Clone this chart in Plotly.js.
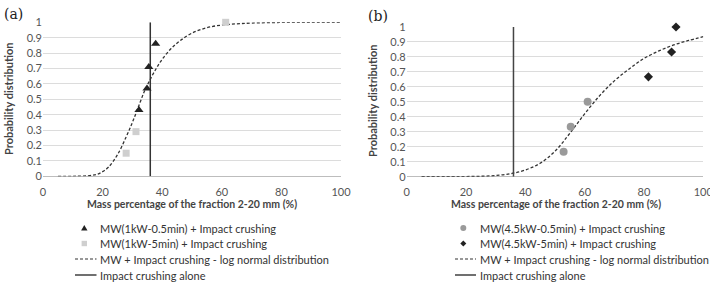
<!DOCTYPE html>
<html><head><meta charset="utf-8">
<script src="https://cdn.plot.ly/plotly-3.0.1.min.js"></script>
<style>html,body{margin:0;padding:0;background:#fff}#c{width:710px;height:282px}</style>
</head><body><div id="c"></div>
<script>
// Panel (a)
const a_tri_x = [32.2, 34.9, 35.5, 37.8];
const a_tri_y = [0.43, 0.57, 0.71, 0.86];
const a_sq_x = [27.9, 31.2, 61.3];
const a_sq_y = [0.15, 0.29, 1.0];
const a_fit_x = [5, 10, 15, 18, 20, 22, 25, 28, 30, 32, 34, 36, 38, 40, 43, 46, 50, 55, 60, 65, 70, 80, 90, 100];
const a_fit_y = [0, 0, 0.003, 0.012, 0.03, 0.06, 0.14, 0.26, 0.35, 0.45, 0.55, 0.63, 0.7, 0.76, 0.83, 0.88, 0.93, 0.965, 0.982, 0.99, 0.995, 0.999, 1, 1];
const a_impact = 36;
// Panel (b)
const b_circ_x = [52.9, 55.3, 61.0];
const b_circ_y = [0.167, 0.333, 0.5];
const b_dia_x = [81.5, 89.3, 90.8];
const b_dia_y = [0.667, 0.833, 1.0];
const b_fit_x = [5, 15, 20, 25, 30, 35, 40, 45, 50, 55, 60, 65, 70, 75, 80, 85, 90, 95, 100];
const b_fit_y = [0, 0, 0.001, 0.003, 0.008, 0.02, 0.045, 0.09, 0.17, 0.29, 0.42, 0.54, 0.64, 0.72, 0.79, 0.84, 0.88, 0.91, 0.935];
const b_impact = 36;
const xTicks = [0, 20, 40, 60, 80, 100];
const yTicks = [0, 0.1, 0.2, 0.3, 0.4, 0.5, 0.6, 0.7, 0.8, 0.9, 1];
const yTickText = ['0', '0.1', '0.2', '0.3', '0.4', '0.5', '0.6', '0.7', '0.8', '0.9', '1'];
const xTitle = 'Mass percentage of the fraction 2-20 mm (%)';
const yTitle = 'Probability distribution';
const names_a = ['MW(1kW-0.5min) + Impact crushing', 'MW(1kW-5min) + Impact crushing', 'MW + Impact crushing - log normal distribution', 'Impact crushing alone'];
const names_b = ['MW(4.5kW-0.5min) + Impact crushing', 'MW(4.5kW-5min) + Impact crushing', 'MW + Impact crushing - log normal distribution', 'Impact crushing alone'];

const FONT = 'Lato, "Open Sans", sans-serif';
const C_TRI = '#222', C_SQ = '#cfcfcf', C_CIRC = '#9a9a9a', C_DIA = '#222', C_LINE = '#333';
const dashStyle = '3px,2px';
const traces = [
  {x: a_fit_x, y: a_fit_y, mode: 'lines', name: names_a[2], line: {color: C_LINE, width: 1.3, dash: dashStyle, shape: 'spline'}, xaxis: 'x', yaxis: 'y'},
  {x: [a_impact, a_impact], y: [0, 1], mode: 'lines', name: names_a[3], line: {color: C_LINE, width: 1.5}, xaxis: 'x', yaxis: 'y'},
  {x: a_tri_x, y: a_tri_y, mode: 'markers', name: names_a[0], marker: {symbol: 'triangle-up', size: 8, color: C_TRI}, xaxis: 'x', yaxis: 'y', cliponaxis: false},
  {x: a_sq_x, y: a_sq_y, mode: 'markers', name: names_a[1], marker: {symbol: 'square', size: 7, color: C_SQ}, xaxis: 'x', yaxis: 'y', cliponaxis: false},
  {x: b_fit_x, y: b_fit_y, mode: 'lines', name: names_b[2], line: {color: C_LINE, width: 1.3, dash: dashStyle, shape: 'spline'}, xaxis: 'x2', yaxis: 'y2'},
  {x: [b_impact, b_impact], y: [0, 1], mode: 'lines', name: names_b[3], line: {color: '#444', width: 1.5}, xaxis: 'x2', yaxis: 'y2'},
  {x: b_circ_x, y: b_circ_y, mode: 'markers', name: names_b[0], marker: {symbol: 'circle', size: 8, color: C_CIRC}, xaxis: 'x2', yaxis: 'y2', cliponaxis: false},
  {x: b_dia_x, y: b_dia_y, mode: 'markers', name: names_b[1], marker: {symbol: 'diamond', size: 7, color: C_DIA}, xaxis: 'x2', yaxis: 'y2', cliponaxis: false}
];

const W = 710, H = 282;
const px = v => v / W, py = v => (H - v) / H;
const xaxisBase = {range: [0, 100], tickvals: xTicks, showgrid: false, zeroline: false, showline: false, ticks: 'outside', ticklen: 5, tickcolor: 'rgba(0,0,0,0)', tickfont: {family: FONT, size: 11, color: '#555'}, automargin: false, fixedrange: true, ticklabeloverflow: 'allow'};
const yaxisBase = {range: [0, 1], tickvals: yTicks, ticktext: yTickText, showgrid: true, gridcolor: '#dcdcdc', gridwidth: 1, zeroline: true, zerolinecolor: '#bdbdbd', zerolinewidth: 1, showline: false, ticks: '', tickfont: {family: FONT, size: 11, color: '#555'}, automargin: false, fixedrange: true};

// Custom legend (keys drawn as shapes, labels as annotations)
const legendRows = [228, 243.5, 259, 275];
function legendItems(names, keyX, lineX0, lineX1, textX, kinds) {
  const shapes = [], ann = [];
  kinds.forEach((k, i) => {
    const cy = legendRows[i];
    if (k.type === 'tri') {
      shapes.push({type: 'path', xref: 'paper', yref: 'paper', path: `M ${px(keyX - 3.2)} ${py(cy + 2.6)} L ${px(keyX + 3.2)} ${py(cy + 2.6)} L ${px(keyX)} ${py(cy - 3)} Z`, fillcolor: k.color, line: {width: 0}});
    } else if (k.type === 'sq') {
      shapes.push({type: 'rect', xref: 'paper', yref: 'paper', x0: px(keyX - 2.7), x1: px(keyX + 2.7), y0: py(cy + 2.7), y1: py(cy - 2.7), fillcolor: k.color, line: {width: 0}});
    } else if (k.type === 'circ') {
      shapes.push({type: 'circle', xref: 'paper', yref: 'paper', x0: px(keyX - 3), x1: px(keyX + 3), y0: py(cy + 3), y1: py(cy - 3), fillcolor: k.color, line: {width: 0}});
    } else if (k.type === 'dia') {
      shapes.push({type: 'path', xref: 'paper', yref: 'paper', path: `M ${px(keyX - 3)} ${py(cy)} L ${px(keyX)} ${py(cy - 3)} L ${px(keyX + 3)} ${py(cy)} L ${px(keyX)} ${py(cy + 3)} Z`, fillcolor: k.color, line: {width: 0}});
    } else if (k.type === 'dash' || k.type === 'solid') {
      shapes.push({type: 'line', xref: 'paper', yref: 'paper', x0: px(lineX0), x1: px(lineX1), y0: py(cy), y1: py(cy), line: {color: C_LINE, width: k.type === 'dash' ? 1.2 : 1.4, dash: k.type === 'dash' ? dashStyle : 'solid'}});
    }
    ann.push({text: names[i], xref: 'paper', yref: 'paper', x: px(textX), y: py(cy), xanchor: 'left', yanchor: 'middle', showarrow: false, font: {family: FONT, size: 11, color: '#333'}});
  });
  return {shapes, ann};
}
const legA = legendItems(names_a, 84.3, 75, 96.5, 98, [{type: 'tri', color: C_TRI}, {type: 'sq', color: C_SQ}, {type: 'dash'}, {type: 'solid'}]);
const legB = legendItems(names_b, 463.3, 455, 476, 477.5, [{type: 'circ', color: C_CIRC}, {type: 'dia', color: C_DIA}, {type: 'dash'}, {type: 'solid'}]);

const layout = {
  width: W, height: H,
  margin: {l: 0, r: 0, t: 0, b: 0},
  paper_bgcolor: '#fff', plot_bgcolor: '#fff',
  showlegend: false,
  xaxis: Object.assign({}, xaxisBase, {domain: [px(43), px(341)], anchor: 'y'}),
  yaxis: Object.assign({}, yaxisBase, {domain: [py(176.3), py(22.3)], anchor: 'x'}),
  xaxis2: Object.assign({}, xaxisBase, {domain: [px(406.7), px(703.3)], anchor: 'y2'}),
  yaxis2: Object.assign({}, yaxisBase, {domain: [py(176.7), py(27)], anchor: 'x2'}),
  shapes: legA.shapes.concat(legB.shapes),
  annotations: [
    {text: '(a)', xref: 'paper', yref: 'paper', x: px(2), y: py(14), xanchor: 'left', yanchor: 'middle', showarrow: false, font: {family: '"DejaVu Serif", "Liberation Serif", serif', size: 14, color: '#222'}},
    {text: '(b)', xref: 'paper', yref: 'paper', x: px(366), y: py(16), xanchor: 'left', yanchor: 'middle', showarrow: false, font: {family: '"DejaVu Serif", "Liberation Serif", serif', size: 14, color: '#222'}},
    {text: '<b>' + xTitle + '</b>', xref: 'paper', yref: 'paper', x: px(192), y: py(204), xanchor: 'center', yanchor: 'middle', showarrow: false, font: {family: FONT, size: 10.5, color: '#444'}},
    {text: '<b>' + xTitle + '</b>', xref: 'paper', yref: 'paper', x: px(556), y: py(204), xanchor: 'center', yanchor: 'middle', showarrow: false, font: {family: FONT, size: 10.5, color: '#444'}},
    {text: '<b>' + yTitle + '</b>', xref: 'paper', yref: 'paper', x: px(8), y: py(99), xanchor: 'center', yanchor: 'middle', textangle: -90, showarrow: false, font: {family: FONT, size: 11, color: '#444'}},
    {text: '<b>' + yTitle + '</b>', xref: 'paper', yref: 'paper', x: px(372), y: py(101), xanchor: 'center', yanchor: 'middle', textangle: -90, showarrow: false, font: {family: FONT, size: 11, color: '#444'}}
  ].concat(legA.ann, legB.ann)
};
Plotly.newPlot('c', traces, layout, {displayModeBar: false, staticPlot: true});
</script></body></html>
